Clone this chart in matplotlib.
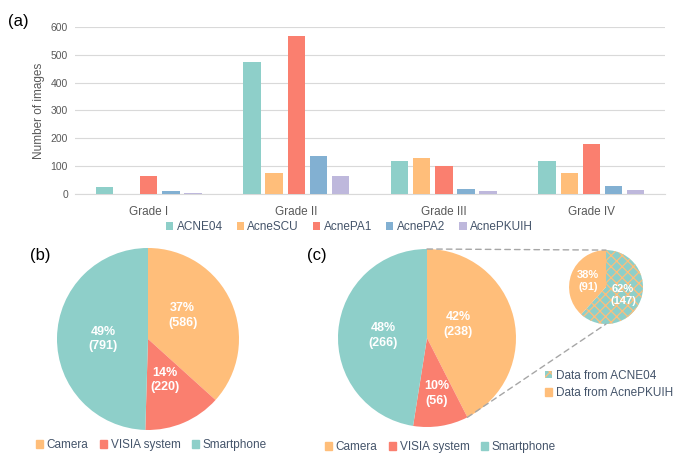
import matplotlib.pyplot as plt
from matplotlib.patches import Patch, ConnectionPatch
import numpy as np

plt.rcParams["font.family"] = ["Liberation Sans", "DejaVu Sans"]
plt.rcParams["hatch.linewidth"] = 0.9

# ---- data ----
grades = ["Grade I", "Grade II", "Grade III", "Grade IV"]
datasets = ["ACNE04", "AcneSCU", "AcnePA1", "AcnePA2", "AcnePKUIH"]
counts = {
    "ACNE04": [24, 473, 120, 117],
    "AcneSCU": [0, 74, 130, 74],
    "AcnePA1": [63, 567, 99, 181],
    "AcnePA2": [10, 136, 18, 30],
    "AcnePKUIH": [5, 64, 11, 14],
}

devices = ["Camera", "VISIA system", "Smartphone"]
devices_all = [586, 220, 791]
devices_all_pct = [37, 14, 49]
devices_sub = [238, 56, 266]
devices_sub_pct = [42, 10, 48]

camera_src = ["Data from ACNE04", "Data from AcnePKUIH"]
camera_src_n = [147, 91]
camera_src_pct = [62, 38]

# ---- style ----
bar_colors = ["#8ECFC9", "#FFBE7A", "#FA7F6F", "#82B0D2", "#BEB8DC"]
dev_colors = ["#FFBE7A", "#FA7F6F", "#8ECFC9"]
teal, orange = "#8ECFC9", "#FFBE7A"
tick_c = "#595959"
leg_c = "#44546A"
grid_c = "#D9D9D9"

fig = plt.figure(figsize=(6.85, 4.65), dpi=100)

# ---- (a) bars ----
ax = fig.add_axes([0.1095, 0.583, 0.8615, 0.359])
x = np.arange(len(grades))
pitch, width = 0.15, 0.118
for i, (name, col) in enumerate(zip(datasets, bar_colors)):
    ax.bar(x + (i - 2) * pitch, counts[name], width, color=col, label=name,
           zorder=3)
ax.set_xlim(-0.5, 3.5)
ax.set_ylim(0, 600)
ax.set_yticks(range(0, 601, 100))
ax.set_xticks(x)
ax.set_xticklabels(grades)
ax.yaxis.grid(True, color=grid_c, lw=0.8, zorder=0)
for s in ["top", "right", "left"]:
    ax.spines[s].set_visible(False)
ax.spines["bottom"].set_color(grid_c)
ax.tick_params(axis="both", length=0, labelsize=7.5, colors=tick_c, pad=5)
ax.tick_params(axis="x", pad=9, labelsize=8.5)
ax.set_ylabel("Number of images", fontsize=8.5, color=tick_c, labelpad=4)
ax.legend(loc="center", bbox_to_anchor=(0.465, -0.2), ncol=5, frameon=False,
          fontsize=8.5, handlelength=0.6, handleheight=0.6, handletextpad=0.3,
          columnspacing=1.2, labelcolor=leg_c)
fig.text(0.012, 0.945, "(a)", fontsize=12)


def pie_labels(axp, pct, n, pos, size=9):
    for p, v, (lx, ly) in zip(pct, n, pos):
        axp.text(lx, ly, f"{p}%\n({v})", ha="center", va="center",
                 color="white", fontsize=size, fontweight="bold",
                 linespacing=1.3)


# ---- (b) pie ----
axb = fig.add_axes([0.0832, 0.0753, 0.2657, 0.3914])
axb.pie(devices_all, colors=dev_colors, startangle=90, counterclock=False,
        wedgeprops=dict(linewidth=0))
axb.set_xlim(-1, 1)
axb.set_ylim(-1, 1)
pie_labels(axb, devices_all_pct, devices_all,
           [(0.38, 0.26), (0.19, -0.45), (-0.49, 0.0)])
fig.text(0.044, 0.45, "(b)", fontsize=12, va="center")
handles = [Patch(color=c, label=d) for c, d in zip(dev_colors, devices)]
fig.legend(handles=handles, loc="center", bbox_to_anchor=(0.221, 0.043),
           ncol=3, frameon=False, fontsize=8.5, handlelength=0.6,
           handleheight=0.6, handletextpad=0.3, columnspacing=1.0,
           labelcolor=leg_c)

# ---- (c) pie of pie ----
axc = fig.add_axes([0.4934, 0.0817, 0.2599, 0.3828])
wedges, _ = axc.pie(devices_sub, colors=dev_colors, startangle=90,
                    counterclock=False, wedgeprops=dict(linewidth=0))
axc.set_xlim(-1, 1)
axc.set_ylim(-1, 1)
pie_labels(axc, devices_sub_pct, devices_sub,
           [(0.35, 0.15), (0.11, -0.62), (-0.49, 0.03)])
fig.text(0.448, 0.45, "(c)", fontsize=12, va="center")
fig.legend(handles=handles, loc="center", bbox_to_anchor=(0.643, 0.038),
           ncol=3, frameon=False, fontsize=8.5, handlelength=0.6,
           handleheight=0.6, handletextpad=0.3, columnspacing=1.0,
           labelcolor=leg_c)

axs = fig.add_axes([0.8307, 0.3032, 0.108, 0.159])
sw, _ = axs.pie(camera_src_n, colors=[teal, orange], startangle=90,
                counterclock=False, wedgeprops=dict(linewidth=0))
sw[0].set_hatch("xxx")
sw[0].set_edgecolor(orange)
sw[0].set_linewidth(0)
axs.set_xlim(-1, 1)
axs.set_ylim(-1, 1)
pie_labels(axs, camera_src_pct, camera_src_n,
           [(0.46, -0.22), (-0.49, 0.16)], size=8)

src_handles = [
    Patch(facecolor=teal, edgecolor=orange, hatch="xxx", lw=0,
          label=camera_src[0]),
    Patch(color=orange, label=camera_src[1]),
]
fig.legend(handles=src_handles, loc="upper left", bbox_to_anchor=(0.796, 0.205),
           frameon=False, fontsize=8.5, handlelength=0.6, handleheight=0.6,
           handletextpad=0.3, labelspacing=0.45, labelcolor=leg_c,
           borderaxespad=0, borderpad=0)

# connector lines from camera wedge to the small pie
end = np.deg2rad(wedges[0].theta1)
for xa, ya, yb in [(0, 1, 1), (np.cos(end), np.sin(end), -1)]:
    con = ConnectionPatch(xyA=(xa, ya), coordsA=axc.transData,
                          xyB=(0, yb), coordsB=axs.transData,
                          color="#A6A6A6", lw=1, ls=(0, (4, 3)))
    fig.add_artist(con)

fig.savefig("out.png", dpi=100)
